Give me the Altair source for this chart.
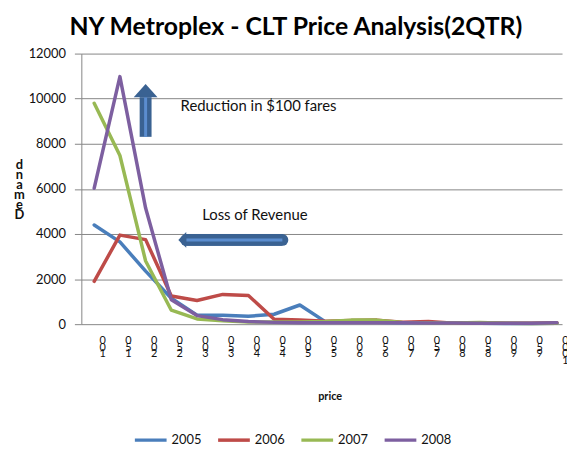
import altair as alt
import pandas as pd

prices = [100, 150, 200, 250, 300, 350, 400, 450, 500, 550,
          600, 650, 700, 750, 800, 850, 900, 950, 1000]
years = ["2005", "2006", "2007", "2008"]
d2005 = [4400, 3650, 2350, 1150, 400, 400, 350, 440, 850, 100,
         100, 80, 60, 60, 40, 40, 30, 30, 40]
d2006 = [1900, 3950, 3750, 1250, 1050, 1320, 1270, 220, 180, 130,
         160, 180, 90, 120, 40, 60, 40, 40, 60]
d2007 = [9800, 7480, 2800, 620, 230, 150, 100, 100, 100, 120,
         180, 180, 80, 60, 50, 80, 40, 30, 40]
d2008 = [6030, 10980, 5150, 1080, 380, 200, 120, 80, 60, 60,
         60, 60, 60, 50, 50, 40, 40, 40, 60]
colors = ["#4A7EBB", "#BE4B48", "#98B954", "#7D5FA0"]

y_ticks = [0, 2000, 4000, 6000, 8000, 10000, 12000]

# annotations (data coordinates)
notes_text = ["Reduction in $100 fares", "Loss of Revenue"]
notes_x = [268, 310]
notes_y = [9670, 4835]

FONT = "Lato"
GRAY = "#868686"

rows = []
for yr, vals in zip(years, [d2005, d2006, d2007, d2008]):
    for p, v in zip(prices, vals):
        rows.append({"price": p, "demand": v, "year": yr})
df = pd.DataFrame(rows)

xscale = alt.Scale(domain=[75, 1010], nice=False, zero=False)
yscale = alt.Scale(domain=[0, 12000], nice=False)

lines = alt.Chart(df).mark_line(strokeWidth=3.5, strokeJoin="round", strokeCap="round").encode(
    x=alt.X("price:Q", scale=xscale,
            axis=alt.Axis(values=prices, format="d", tickCount=19,
                          labelExpr="reverse(split(datum.label, ''))",
                          labelAngle=0, labelLineHeight=6.5, labelFontSize=11,
                          labelPadding=3, labelOverlap=False, labelFlush=False,
                          labelSeparation=0, labelBound=False, translate=8.5,
                          ticks=False, grid=False, domain=False,
                          title="price", titleFontSize=11, titleFontWeight="bold",
                          titleBaseline="middle", titleY=65)),
    y=alt.Y("demand:Q", scale=yscale,
            axis=alt.Axis(values=y_ticks, format="d", grid=True, gridColor=GRAY,
                          tickSize=7, tickColor=GRAY, domainColor=GRAY,
                          labelPadding=9, labelFontSize=13,
                          title=list(reversed("Demand")), titleAngle=0,
                          titleFontSize=13, titleFontWeight="bold",
                          titleLineHeight=10, titleX=-63, titleY=112,
                          titleBaseline="middle", titleAlign="center")),
    color=alt.Color("year:N", scale=alt.Scale(domain=years, range=colors),
                    legend=alt.Legend(title=None, orient="none", legendX=52, legendY=372,
                                      direction="horizontal", symbolType="stroke",
                                      symbolSize=1024, symbolStrokeWidth=3.5,
                                      labelFontSize=13, labelOffset=3, columnPadding=9,
                                      padding=0)),
)

notes_df = pd.DataFrame({"t": notes_text, "x": notes_x, "y": notes_y})
notes = alt.Chart(notes_df).mark_text(align="left", baseline="middle", fontSize=15,
                                      font=FONT, color="#111111").encode(
    x=alt.X("x:Q", scale=xscale), y=alt.Y("y:Q", scale=yscale), text="t:N")

# arrows
shaft_df = pd.DataFrame({"x": [200, 279], "x2": [200, 466],
                         "y": [8308, 3736], "y2": [10066, 3736]})
shaft_outer = alt.Chart(shaft_df).mark_rule(strokeWidth=12, color="#3A6292").encode(
    x=alt.X("x:Q", scale=xscale), x2="x2:Q",
    y=alt.Y("y:Q", scale=yscale), y2="y2:Q")
shaft_df2 = pd.DataFrame({"x": [279], "x2": [466], "y": [3736], "y2": [3736]})
shaft_round = alt.Chart(shaft_df2).mark_rule(strokeWidth=12, color="#3A6292",
                                             strokeCap="round").encode(
    x=alt.X("x:Q", scale=xscale), x2="x2:Q",
    y=alt.Y("y:Q", scale=yscale), y2="y2:Q")
shaft_inner = alt.Chart(shaft_df).mark_rule(strokeWidth=3, color="#5B8DCF").encode(
    x=alt.X("x:Q", scale=xscale), x2="x2:Q",
    y=alt.Y("y:Q", scale=yscale), y2="y2:Q")

head_up = alt.Chart(pd.DataFrame({"x": [200], "y": [10066]})).mark_point(
    shape="M-1,0 L1,0 L0,-1.1 Z", size=576, filled=True, opacity=1,
    color="#3A6292").encode(x=alt.X("x:Q", scale=xscale), y=alt.Y("y:Q", scale=yscale))
head_left = alt.Chart(pd.DataFrame({"x": [279], "y": [3736]})).mark_point(
    shape="M0,-1 L0,1 L-1,0 Z", size=256, filled=True, opacity=1,
    color="#3A6292").encode(x=alt.X("x:Q", scale=xscale), y=alt.Y("y:Q", scale=yscale))

chart = alt.layer(lines, shaft_outer, shaft_round, shaft_inner, head_up, head_left, notes).properties(
    width=485, height=273,
    title=alt.Title("NY Metroplex - CLT Price Analysis(2QTR)", fontSize=25, font=FONT,
                    fontWeight="bold", anchor="start", frame="group", dx=-12, dy=-4,
                    offset=4, color="#000000"),
    background="white",
).configure(font=FONT).configure_axis(
    labelFont=FONT, titleFont=FONT, labelColor="#111111", titleColor="#111111",
    labelOverlap=False
).configure_legend(labelFont=FONT, labelColor="#111111").configure_view(stroke=None)

chart.save("out.html", embed_options={"renderer": "svg", "actions": False})
